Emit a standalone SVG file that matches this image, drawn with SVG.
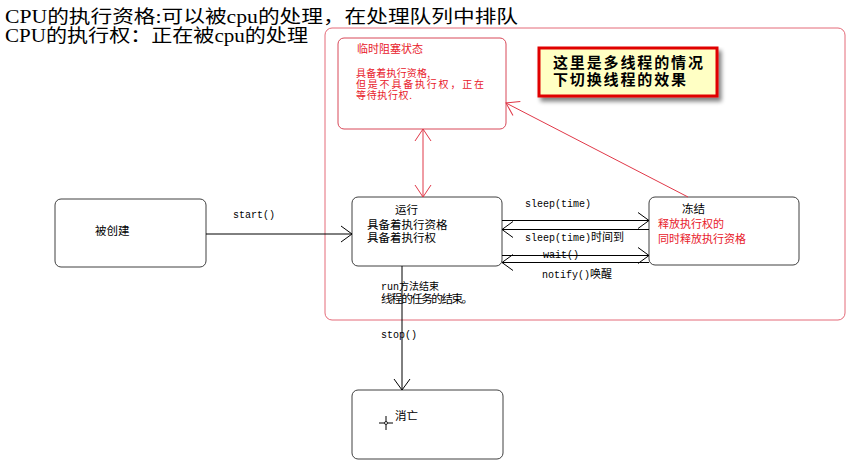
<svg xmlns="http://www.w3.org/2000/svg" width="857" height="462" viewBox="0 0 857 462">
<style>
.box{fill:#fff;stroke:#404040;stroke-width:1}
.rbox{fill:#fff;stroke:#d84858;stroke-width:1}
.t{font-family:"Noto Sans CJK SC","Liberation Sans",sans-serif;font-size:11.5px;fill:#000}
.rt{font-family:"Noto Sans CJK SC","Liberation Sans",sans-serif;font-size:11px;fill:#e8202a}
.rs{font-family:"Noto Sans CJK SC","Liberation Sans",sans-serif;font-size:10px;fill:#e8202a}
.m{font-family:"Liberation Mono","Noto Sans CJK SC",monospace;font-size:10px;fill:#000}
.h{font-family:"Liberation Serif","Noto Sans CJK SC",serif;font-size:18px;fill:#000}
.ln{stroke:#000;stroke-width:1;fill:none}
.rl{stroke:#e03848;stroke-width:1;fill:none}
</style>
<defs>
<marker id="ab" markerUnits="userSpaceOnUse" markerWidth="14" markerHeight="20" refX="11" refY="10" orient="auto" overflow="visible">
<path d="M0,2 L11,10 L0,18" fill="none" stroke="#000" stroke-width="1"/>
</marker>
<marker id="ar" markerUnits="userSpaceOnUse" markerWidth="14" markerHeight="20" refX="12" refY="10" orient="auto-start-reverse" overflow="visible">
<path d="M0,2 L12,10 L0,18" fill="none" stroke="#e03848" stroke-width="1"/>
</marker>
<filter id="sh" x="-10%" y="-10%" width="130%" height="140%">
<feGaussianBlur in="SourceAlpha" stdDeviation="2"/>
<feOffset dx="3" dy="4"/>
<feComponentTransfer><feFuncA type="linear" slope="0.5"/></feComponentTransfer>
<feMerge><feMergeNode/><feMergeNode in="SourceGraphic"/></feMerge>
</filter>
</defs>

<g id="header">
<text class="h" x="5" y="23" textLength="513" lengthAdjust="spacingAndGlyphs">CPU的执行资格:可以被cpu的处理，在处理队列中排队</text>
<text class="h" x="5" y="42" textLength="303" lengthAdjust="spacingAndGlyphs">CPU的执行权：正在被cpu的处理</text>
</g>

<g id="region">
<rect x="325" y="28" width="520" height="292" rx="7" fill="none" stroke="#e46a78" stroke-width="1"/>
</g>

<g id="blocked">
<rect class="rbox" x="338" y="38" width="168" height="91" rx="6"/>
<text class="rt" x="357" y="53">临时阻塞状态</text>
<text class="rs" x="356" y="77" textLength="74" lengthAdjust="spacing">具备着执行资格,</text>
<text class="rs" x="356" y="88" textLength="128" lengthAdjust="spacing">但是不具备执行权，正在</text>
<text class="rs" x="356" y="99" textLength="56" lengthAdjust="spacing">等待执行权.</text>
</g>

<g id="note">
<rect x="539" y="48" width="178" height="48" fill="#ffffc4" stroke="#e00000" stroke-width="3" filter="url(#sh)"/>
<text x="553" y="68" font-family="Noto Sans CJK SC,sans-serif" font-size="15" font-weight="bold" fill="#000" textLength="150" lengthAdjust="spacing">这里是多线程的情况</text>
<text x="553" y="85" font-family="Noto Sans CJK SC,sans-serif" font-size="15" font-weight="bold" fill="#000" textLength="133" lengthAdjust="spacing">下切换线程的效果</text>
</g>

<g id="created">
<rect class="box" x="55" y="199" width="151" height="68" rx="6"/>
<text class="t" x="95" y="235">被创建</text>
</g>

<g id="running">
<rect class="box" x="352" y="197" width="150" height="69" rx="6"/>
<text class="t" x="395" y="214">运行</text>
<text class="t" x="367" y="229">具备着执行资格</text>
<text class="t" x="367" y="242">具备着执行权</text>
</g>

<g id="frozen">
<rect class="box" x="649" y="197" width="150" height="68" rx="6"/>
<text class="t" x="682" y="213">冻结</text>
<text class="rt" x="658" y="228">释放执行权的</text>
<text class="rt" x="658" y="243">同时释放执行资格</text>
</g>

<g id="dead">
<rect class="box" x="352" y="390" width="151" height="69" rx="6"/>
<text class="t" x="395" y="420">消亡</text>
<path d="M379,423 H393 M386,416 V430" stroke="#000" stroke-width="1"/>
<circle cx="386" cy="423" r="1.5" fill="#fff" stroke="#000" stroke-width="0.8"/>
</g>

<g id="connectors">
<line class="ln" x1="206" y1="234" x2="352" y2="234" marker-end="url(#ab)"/>
<text class="m" x="233" y="218">start()</text>

<line class="ln" x1="502" y1="220.5" x2="649" y2="220.5" marker-end="url(#ab)"/>
<text class="m" x="525" y="207">sleep(time)</text>
<line class="ln" x1="649" y1="229.5" x2="502" y2="229.5" marker-end="url(#ab)"/>
<text class="m" x="525" y="241">sleep(time)<tspan font-family="Noto Sans CJK SC,sans-serif" font-size="11">时间到</tspan></text>
<line class="ln" x1="502" y1="255.5" x2="649" y2="255.5" marker-end="url(#ab)"/>
<text class="m" x="543" y="258">wait()</text>
<line class="ln" x1="649" y1="262.5" x2="502" y2="262.5" marker-end="url(#ab)"/>
<text class="m" x="542" y="278">notify()<tspan font-family="Noto Sans CJK SC,sans-serif" font-size="11">唤醒</tspan></text>

<line class="ln" x1="402" y1="266" x2="402" y2="390" marker-end="url(#ab)"/>
<text class="m" x="381" y="290">run<tspan font-family="Noto Sans CJK SC,sans-serif" font-size="10">方法结束</tspan></text>
<text class="t" x="381" y="303" font-size="10" textLength="92" lengthAdjust="spacing">线程的任务的结束。</text>
<text class="m" x="381" y="338">stop()</text>

<line class="rl" x1="423" y1="129" x2="423" y2="197" marker-start="url(#ar)" marker-end="url(#ar)"/>
<line class="rl" x1="688" y1="197" x2="506" y2="103" marker-end="url(#ar)"/>
</g>
</svg>
